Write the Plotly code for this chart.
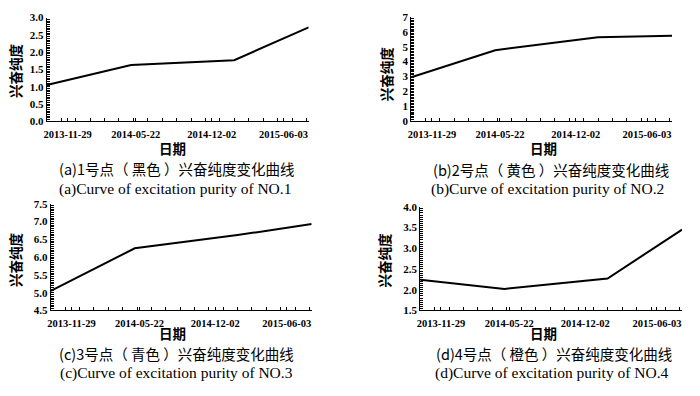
import plotly.graph_objects as go

# ---- data ----
dates = ["2013-10-07", "2014-05-10", "2015-01-28", "2015-08-06"]
tick_dates = ["2013-11-29", "2014-05-22", "2014-12-02", "2015-06-03"]
x_range = ["2013-10-07", "2015-08-06"]

purity_1 = [1.05, 1.63, 1.77, 2.72]
purity_2 = [2.95, 4.77, 5.65, 5.75]
purity_3 = [5.05, 6.25, 6.62, 6.93]
purity_4 = [2.24, 2.02, 2.27, 3.45]
series = [purity_1, purity_2, purity_3, purity_4]

y_ranges = [[0, 3], [0, 7], [4.5, 7.5], [1.5, 4.0]]
y_dticks = [0.5, 1, 0.5, 0.5]
y_minor = [0.05, 0.1, 0.05, 0.05]
y_formats = [".1f", "d", ".1f", ".1f"]

y_title = "兴奋纯度"
x_title = "日期"
captions_cn = [
    "(a)1号点（ 黑色 ）兴奋纯度变化曲线",
    "(b)2号点（ 黄色 ）兴奋纯度变化曲线",
    "(c)3号点（ 青色 ）兴奋纯度变化曲线",
    "(d)4号点（ 橙色 ）兴奋纯度变化曲线",
]
captions_en = [
    "(a)Curve of excitation purity of NO.1",
    "(b)Curve of excitation purity of NO.2",
    "(c)Curve of excitation purity of NO.3",
    "(d)Curve of excitation purity of NO.4",
]

# ---- layout geometry (page pixels) ----
W, H = 700, 396
boxes = [  # x0, x1, ytop, ybottom
    (44, 307, 12, 119),
    (410, 672, 11.5, 118.5),
    (48, 310, 204, 314),
    (419, 682, 207, 314),
]
ytitle_pos = [(12, 66), (385, 70), (12, 261), (383, 262)]
xtitle_pos = [(170, 146), (543, 146), (170, 337), (543, 337)]
cap1_pos = [(175, 168), (550, 169), (174, 358), (553, 358)]
cap2_pos = [(173, 188.5), (547, 188.5), (174, 378), (551, 378)]


def fx(x):
    return x / W


def fy(y):
    return 1 - y / H


SERIF = "Liberation Serif"
CJK = "Noto Sans CJK SC"

fig = go.Figure()
annotations = []
layout = {}
DAY_MS = 86400000

for i, vals in enumerate(series):
    n = "" if i == 0 else str(i + 1)
    fig.add_trace(go.Scatter(
        x=dates, y=vals, mode="lines",
        line=dict(color="black", width=2),
        xaxis="x" + n, yaxis="y" + n, showlegend=False,
    ))
    x0, x1, yt, yb = boxes[i]
    layout["xaxis" + n] = dict(
        type="date",
        domain=[fx(x0), fx(x1)],
        anchor="y" + n,
        range=x_range,
        tickmode="array",
        tickvals=tick_dates,
        ticktext=tick_dates,
        ticks="inside", ticklen=3, tickcolor="black",
        ticklabelstandoff=3,
        showline=True, linecolor="black", linewidth=1,
        showgrid=False, zeroline=False,
        tickfont=dict(family=SERIF, size=10.5, color="black", weight="bold"),
        minor=dict(ticks="inside", ticklen=3, tickcolor="black",
                   dtick=36.8 * DAY_MS, tick0=x_range[0], showgrid=False),
    )
    layout["yaxis" + n] = dict(
        domain=[fy(yb), fy(yt)],
        anchor="x" + n,
        range=y_ranges[i],
        dtick=y_dticks[i],
        tickformat=y_formats[i],
        ticks="inside", ticklen=3, tickcolor="black",
        showline=True, linecolor="black", linewidth=1,
        showgrid=False, zeroline=False,
        tickfont=dict(family=SERIF, size=11, color="black", weight="bold"),
        minor=dict(ticks="inside", ticklen=3, tickcolor="black",
                   dtick=y_minor[i], showgrid=False),
    )
    tx, ty = ytitle_pos[i]
    annotations.append(dict(text=y_title, x=fx(tx), y=fy(ty), xref="paper", yref="paper",
                            showarrow=False, textangle=-90, xanchor="center", yanchor="middle",
                            font=dict(family=CJK, size=13.5, color="black", weight="bold")))
    tx, ty = xtitle_pos[i]
    annotations.append(dict(text=x_title, x=fx(tx), y=fy(ty), xref="paper", yref="paper",
                            showarrow=False, xanchor="center", yanchor="middle",
                            font=dict(family=CJK, size=13.5, color="black", weight="bold")))
    tx, ty = cap1_pos[i]
    annotations.append(dict(text=captions_cn[i], x=fx(tx), y=fy(ty), xref="paper", yref="paper",
                            showarrow=False, xanchor="center", yanchor="middle",
                            font=dict(family=CJK, size=14.5, color="black")))
    tx, ty = cap2_pos[i]
    annotations.append(dict(text=captions_en[i], x=fx(tx), y=fy(ty), xref="paper", yref="paper",
                            showarrow=False, xanchor="center", yanchor="middle",
                            font=dict(family=SERIF, size=15.5, color="black")))

fig.update_layout(
    width=W, height=H, autosize=False,
    margin=dict(l=0, r=0, t=0, b=0),
    paper_bgcolor="white", plot_bgcolor="white",
    annotations=annotations,
    **layout,
)

fig.write_html("out.html", config={"displayModeBar": False},
               post_script="document.body.style.margin='0';")
